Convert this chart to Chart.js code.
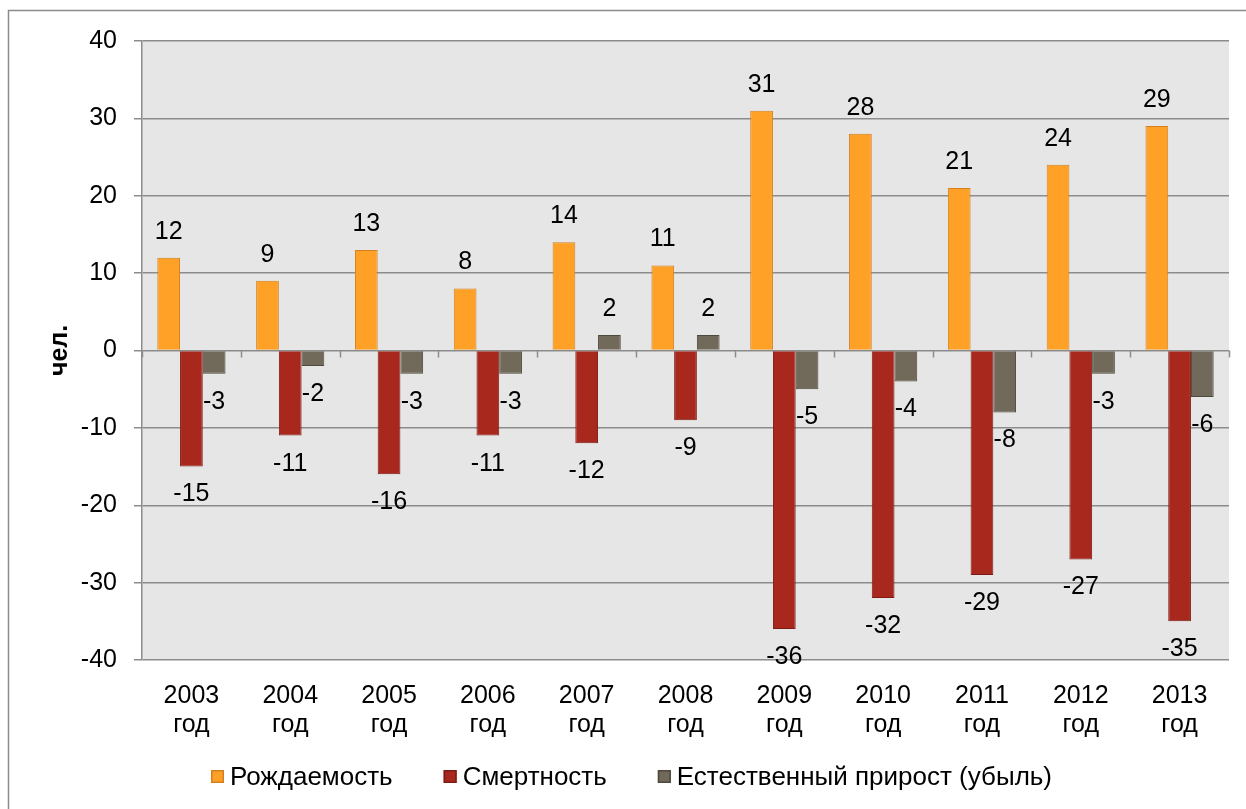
<!DOCTYPE html>
<html><head><meta charset="utf-8">
<script src="https://cdn.jsdelivr.net/npm/chart.js@4/dist/chart.umd.min.js"></script>
<style>html,body{margin:0;padding:0;background:#fff}canvas{display:block}</style>
</head><body>
<canvas id="c" width="1246" height="809"></canvas>
<script>
const categories = [["2003","год"],["2004","год"],["2005","год"],["2006","год"],["2007","год"],["2008","год"],["2009","год"],["2010","год"],["2011","год"],["2012","год"],["2013","год"]];
const births = [12, 9, 13, 8, 14, 11, 31, 28, 21, 24, 29];
const deaths = [-15, -11, -16, -11, -12, -9, -36, -32, -29, -27, -35];
const natural = [-3, -2, -3, -3, 2, 2, -5, -4, -8, -3, -6];
const seriesNames = ["Рождаемость", "Смертность", "Естественный прирост (убыль)"];
const yTicks = { min: -40, max: 40, step: 10 };
const yTitle = "чел.";

const FONT = "'Liberation Sans', Arial, sans-serif";
const FS = 25;

const decor = {
  id: 'decor',
  beforeDraw(chart) {
    const {ctx, chartArea: a} = chart;
    ctx.save();
    ctx.fillStyle = '#fff';
    ctx.fillRect(0, 0, chart.width, chart.height);
    ctx.strokeStyle = '#8c8c8c';
    ctx.lineWidth = 1.5;
    ctx.strokeRect(8.5, 10.5, 1400, 1000);
    ctx.fillStyle = '#e6e6e6';
    ctx.fillRect(a.left, a.top, a.right - a.left, a.bottom - a.top);
    ctx.restore();
  },
  afterDatasetsDraw(chart) {
    const {ctx} = chart;
    const x = chart.scales.x, y = chart.scales.y;
    const y0 = y.getPixelForValue(0);
    ctx.save();
    ctx.strokeStyle = '#8c8c8c';
    ctx.lineWidth = 1.5;
    const n = categories.length;
    const w = (x.right - x.left) / n;
    for (let i = 0; i <= n; i++) {
      const px = Math.round(x.left + i * w) + 0.5;
      ctx.beginPath(); ctx.moveTo(px, y0); ctx.lineTo(px, y0 + 7); ctx.stroke();
    }
    ctx.fillStyle = '#000';
    ctx.font = FS + 'px ' + FONT;
    ctx.textAlign = 'center';
    ctx.textBaseline = 'middle';
    chart.data.datasets.forEach((ds, di) => {
      const meta = chart.getDatasetMeta(di);
      meta.data.forEach((bar, i) => {
        const v = ds.data[i];
        const ly = v >= 0 ? bar.y - 26 : bar.y + 28;
        ctx.fillText(String(v), bar.x, ly);
      });
    });
    ctx.restore();
  },
  afterDraw(chart) {
    const {ctx} = chart;
    ctx.save();
    ctx.font = '26px ' + FONT;
    ctx.textBaseline = 'middle';
    ctx.textAlign = 'left';
    const box = 13, gapBox = 6, gapItem = 51;
    const ds = chart.data.datasets;
    const widths = ds.map(d => ctx.measureText(d.label).width);
    let x = 211;
    const yc = 777;
    ds.forEach((d, i) => {
      ctx.fillStyle = d.backgroundColor;
      ctx.fillRect(x, yc - 7, box, box);
      ctx.strokeStyle = d.borderColor;
      ctx.lineWidth = 1.5;
      ctx.strokeRect(x + 0.75, yc - 6.25, box - 1.5, box - 1.5);
      ctx.fillStyle = '#000';
      ctx.fillText(d.label, x + box + gapBox, yc + 1);
      x += box + gapBox + widths[i] + gapItem;
    });
    ctx.restore();
  }
};

new Chart(document.getElementById('c'), {
  type: 'bar',
  data: {
    labels: categories,
    datasets: [
      { label: seriesNames[0], data: births, backgroundColor: '#ffa126', borderColor: '#d4801f', borderWidth: 1 },
      { label: seriesNames[1], data: deaths, backgroundColor: '#a9281e', borderColor: '#7e1c14', borderWidth: 1 },
      { label: seriesNames[2], data: natural, backgroundColor: '#716959', borderColor: '#4e483d', borderWidth: 1 }
    ]
  },
  options: {
    responsive: false,
    animation: false,
    devicePixelRatio: 1,
    layout: { padding: { top: 41, right: 17, left: 0, bottom: 0 } },
    datasets: { bar: { categoryPercentage: 0.69, barPercentage: 1 } },
    plugins: { legend: { display: false }, tooltip: { enabled: false } },
    scales: {
      x: {
        afterFit(s) { s.height = 149; },
        grid: { display: false },
        border: { display: false },
        ticks: { color: '#000', font: { size: FS, family: FONT, lineHeight: 1.18 }, padding: 13, maxRotation: 0 }
      },
      y: {
        min: yTicks.min, max: yTicks.max,
        afterFit(s) { s.width = 142; },
        ticks: { stepSize: yTicks.step, color: '#000', font: { size: FS, family: FONT }, padding: 17 },
        grid: { color: '#8c8c8c', lineWidth: 1.5, tickLength: 8, drawTicks: true },
        border: { display: true, color: '#8c8c8c', width: 1.5 },
        title: { display: true, text: yTitle, color: '#000', font: { size: FS, weight: 'bold', family: FONT }, padding: { top: 45, bottom: 0 } }
      }
    }
  },
  plugins: [decor]
});
</script>
</body></html>
